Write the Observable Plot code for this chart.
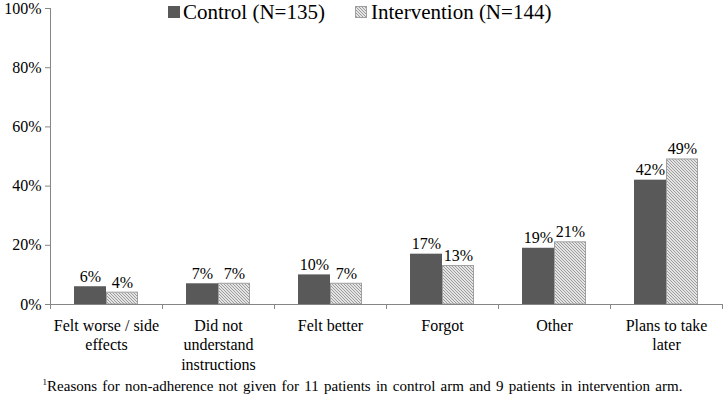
<!DOCTYPE html>
<html><head><meta charset="utf-8">
<script src="https://cdn.jsdelivr.net/npm/d3@7"></script>
<script src="https://cdn.jsdelivr.net/npm/@observablehq/plot@0.6"></script>
<style>
body{margin:0;background:#fff;}
</style></head><body>
<script>
const categories = ["Felt worse / side\neffects", "Did not\nunderstand\ninstructions", "Felt better", "Forgot", "Other", "Plans to take\nlater"];
const controlValues = [6, 7, 10, 17, 19, 42];
const interventionValues = [4, 7, 7, 13, 21, 49];
const yTicks = [0, 20, 40, 60, 80, 100];
const seriesNames = ["Control (N=135)", "Intervention (N=144)"];
const footnote = "Reasons for non-adherence not given for 11 patients in control arm and 9 patients in intervention arm.";

const W = 725, H = 380, mL = 50, mR = 3, mT = 8, mB = 76;
const band = (W - mL - mR) / categories.length;
const barW = band * 0.2857;
const axisColor = "#868686";
const control = categories.map((c, i) => ({cat: c, v: controlValues[i]}));
const intervention = categories.map((c, i) => ({cat: c, v: interventionValues[i]}));

const plot = Plot.plot({
  width: W, height: H,
  marginLeft: mL, marginRight: mR, marginTop: mT, marginBottom: mB,
  style: {fontSize: "16px", color: "#000", background: "transparent"},
  x: {domain: categories, padding: 0, label: null},
  y: {domain: [0, 100], label: null},
  marks: [
    Plot.barY(control, {x: "cat", y: "v", fill: "#595959", insetLeft: band/2 - barW, insetRight: band/2}),
    Plot.barY(intervention, {x: "cat", y: "v", fill: "url(#hatch)", stroke: "#a0a0a0", strokeWidth: 1, insetLeft: band/2 + 0.5, insetRight: band/2 - barW + 0.5}),
    Plot.text(control, {x: "cat", y: "v", text: d => d.v + "%", dx: -barW/2, dy: -5, lineAnchor: "bottom", fontSize: 16, fill: "#000"}),
    Plot.text(intervention, {x: "cat", y: "v", text: d => d.v + "%", dx: barW/2, dy: -5, lineAnchor: "bottom", fontSize: 16, fill: "#000"}),
    Plot.ruleY([0], {stroke: axisColor}),
    Plot.ruleX([categories[0]], {dx: -band/2, y1: 0, y2: 100, stroke: axisColor}),
    Plot.ruleX(categories, {dx: -band/2, y1: 0, y2: 0, insetBottom: -5, stroke: axisColor}),
    Plot.ruleX([categories[categories.length - 1]], {dx: band/2, y1: 0, y2: 0, insetBottom: -5, stroke: axisColor}),
    Plot.axisY({ticks: yTicks, tickFormat: d => d + "%", tickSize: 5, tickPadding: 4, stroke: axisColor, fill: "#000", label: null, fontSize: 16}),
    Plot.axisX({tickSize: 0, tickPadding: 13, label: null, lineHeight: 1.2, fontSize: 16, fill: "#000", lineAnchor: "top"})
  ]
});
const svg = d3.select(plot);
svg.selectAll("text").attr("style", "font-family:'Liberation Serif'");
const defs = svg.insert("defs", ":first-child");
const pat = defs.append("pattern").attr("id", "hatch").attr("patternUnits", "userSpaceOnUse").attr("width", 3).attr("height", 3);
pat.append("rect").attr("width", 3).attr("height", 3).attr("fill", "#e4e4e4");
pat.append("path").attr("d", "M-1,-1 L4,4").attr("stroke", "#8a8a8a").attr("stroke-width", 0.8);

const wrap = document.createElement("div");
wrap.style.cssText = "position:relative;width:725px;height:400px;";
wrap.appendChild(plot);
const leg = document.createElement("div");
leg.innerHTML =
  '<div style="position:absolute;left:168px;top:6px;width:12px;height:12px;background:#595959"></div>' +
  '<span style="position:absolute;left:183px;top:0;line-height:24px;white-space:nowrap;font-family:\'Liberation Serif\';font-size:21px">' + seriesNames[0] + '</span>' +
  '<svg style="position:absolute;left:355px;top:6px" width="12" height="12"><defs><pattern id="hatchL" patternUnits="userSpaceOnUse" width="3" height="3"><rect width="3" height="3" fill="#e4e4e4"/><path d="M-1,-1 L4,4" stroke="#8a8a8a" stroke-width="0.8"/></pattern></defs><rect x="0.5" y="0.5" width="11" height="11" fill="url(#hatchL)" stroke="#a0a0a0"/></svg>' +
  '<span style="position:absolute;left:371px;top:0;line-height:24px;white-space:nowrap;font-family:\'Liberation Serif\';font-size:21px">' + seriesNames[1] + '</span>' +
  '<span style="position:absolute;left:0;top:372px;width:725px;line-height:20px;text-align:center;font-family:\'Liberation Serif\';font-size:15px;word-spacing:1.5px"><sup style="font-size:9px">1</sup>' + footnote + '</span>';
wrap.appendChild(leg);
document.body.appendChild(wrap);
</script>
</body></html>
